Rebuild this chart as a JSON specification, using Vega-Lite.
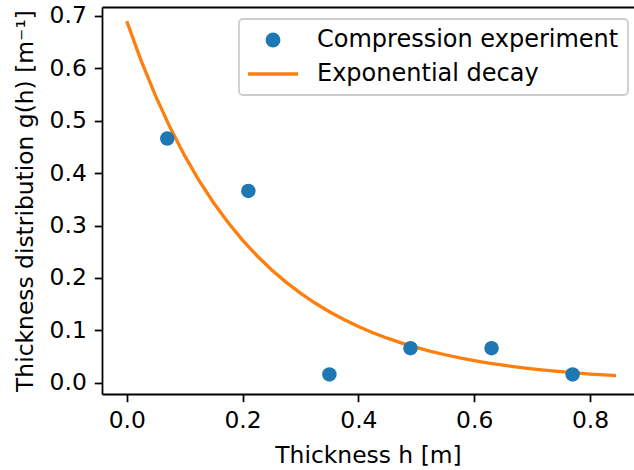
{
  "$schema": "https://vega.github.io/schema/vega-lite/v6.json",
  "autosize": {"type": "none"},
  "padding": {"left": 102, "top": 7, "right": 0, "bottom": 76},
  "width": 532,
  "height": 387,
  "background": "white",
  "config": {
    "view": {"stroke": null},
    "font": "DejaVu Sans",
    "axis": {
      "grid": false,
      "domainColor": "#000000",
      "domainWidth": 1.76,
      "tickColor": "#000000",
      "tickWidth": 1.76,
      "tickSize": 7.7,
      "labelPadding": 8,
      "labelFont": "DejaVu Sans",
      "labelFontSize": 23.4,
      "labelColor": "#000000",
      "titleFont": "DejaVu Sans",
      "titleFontSize": 23.4,
      "titleFontWeight": "normal",
      "titleColor": "#000000"
    }
  },
  "datasets": {
    "experiment": [
      {"h": 0.07, "g": 0.466, "series": "Compression experiment"},
      {"h": 0.21, "g": 0.366, "series": "Compression experiment"},
      {"h": 0.35, "g": 0.016, "series": "Compression experiment"},
      {"h": 0.49, "g": 0.066, "series": "Compression experiment"},
      {"h": 0.63, "g": 0.066, "series": "Compression experiment"},
      {"h": 0.77, "g": 0.016, "series": "Compression experiment"}
    ],
    "fit": [
      {"h": 0.0, "g": 0.6900, "series": "Exponential decay"},
      {"h": 0.025, "g": 0.6143, "series": "Exponential decay"},
      {"h": 0.05, "g": 0.5469, "series": "Exponential decay"},
      {"h": 0.075, "g": 0.4869, "series": "Exponential decay"},
      {"h": 0.1, "g": 0.4334, "series": "Exponential decay"},
      {"h": 0.125, "g": 0.3859, "series": "Exponential decay"},
      {"h": 0.15, "g": 0.3435, "series": "Exponential decay"},
      {"h": 0.175, "g": 0.3058, "series": "Exponential decay"},
      {"h": 0.2, "g": 0.2723, "series": "Exponential decay"},
      {"h": 0.225, "g": 0.2424, "series": "Exponential decay"},
      {"h": 0.25, "g": 0.2158, "series": "Exponential decay"},
      {"h": 0.275, "g": 0.1921, "series": "Exponential decay"},
      {"h": 0.3, "g": 0.1710, "series": "Exponential decay"},
      {"h": 0.325, "g": 0.1522, "series": "Exponential decay"},
      {"h": 0.35, "g": 0.1355, "series": "Exponential decay"},
      {"h": 0.375, "g": 0.1207, "series": "Exponential decay"},
      {"h": 0.4, "g": 0.1074, "series": "Exponential decay"},
      {"h": 0.425, "g": 0.0956, "series": "Exponential decay"},
      {"h": 0.45, "g": 0.0851, "series": "Exponential decay"},
      {"h": 0.475, "g": 0.0758, "series": "Exponential decay"},
      {"h": 0.5, "g": 0.0675, "series": "Exponential decay"},
      {"h": 0.525, "g": 0.0601, "series": "Exponential decay"},
      {"h": 0.55, "g": 0.0535, "series": "Exponential decay"},
      {"h": 0.575, "g": 0.0476, "series": "Exponential decay"},
      {"h": 0.6, "g": 0.0424, "series": "Exponential decay"},
      {"h": 0.625, "g": 0.0377, "series": "Exponential decay"},
      {"h": 0.65, "g": 0.0336, "series": "Exponential decay"},
      {"h": 0.675, "g": 0.0299, "series": "Exponential decay"},
      {"h": 0.7, "g": 0.0266, "series": "Exponential decay"},
      {"h": 0.725, "g": 0.0237, "series": "Exponential decay"},
      {"h": 0.75, "g": 0.0211, "series": "Exponential decay"},
      {"h": 0.775, "g": 0.0188, "series": "Exponential decay"},
      {"h": 0.8, "g": 0.0167, "series": "Exponential decay"},
      {"h": 0.825, "g": 0.0149, "series": "Exponential decay"},
      {"h": 0.845, "g": 0.0136, "series": "Exponential decay"}
    ]
  },
  "layer": [
    {
      "data": {"name": "fit"},
      "mark": {"type": "line", "strokeWidth": 3.3, "strokeCap": "butt", "clip": true},
      "encoding": {
        "x": {
          "field": "h", "type": "quantitative",
          "scale": {"domain": [-0.0427, 0.876], "nice": false, "zero": false},
          "axis": {"orient": "top", "labels": false, "ticks": false, "title": null}
        },
        "y": {
          "field": "g", "type": "quantitative",
          "scale": {"domain": [-0.0214, 0.717], "nice": false, "zero": false},
          "axis": {
            "values": [0, 0.1, 0.2, 0.3, 0.4, 0.5, 0.6, 0.7],
            "format": ".1f",
            "title": "Thickness distribution g(h) [m⁻¹]",
            "titlePadding": 12
          }
        },
        "color": {
          "field": "series", "type": "nominal",
          "scale": {"domain": ["Compression experiment", "Exponential decay"], "range": ["#1f77b4", "#ff7f0e"]},
          "legend": {
            "title": null,
            "orient": "none",
            "legendX": 137,
            "legendY": 12,
            "padding": 9,
            "fillColor": "rgba(255,255,255,0.8)",
            "strokeColor": "#cccccc",
            "cornerRadius": 4,
            "labelFont": "DejaVu Sans",
            "labelFontSize": 24,
            "labelLimit": 500,
            "labelColor": "#000000",
            "symbolOffset": 13,
            "labelOffset": 32,
            "rowPadding": 10,
            "encode": {
              "legend": {"update": {"strokeWidth": {"value": 1.76}}},
              "symbols": {
                "update": {
                  "shape": {"signal": "datum.value == 'Exponential decay' ? 'stroke' : 'circle'"},
                  "size": {"signal": "datum.value == 'Exponential decay' ? 2500 : 220"},
                  "fill": {"signal": "datum.value == 'Exponential decay' ? 'transparent' : '#1f77b4'"},
                  "stroke": {"signal": "datum.value == 'Exponential decay' ? '#ff7f0e' : 'transparent'"},
                  "strokeWidth": {"signal": "datum.value == 'Exponential decay' ? 3.3 : 0"},
                  "opacity": {"value": 1}
                }
              }
            }
          }
        }
      }
    },
    {
      "data": {"name": "experiment"},
      "mark": {"type": "circle", "size": 210, "opacity": 1},
      "encoding": {
        "x": {
          "field": "h", "type": "quantitative",
          "axis": {
            "orient": "bottom",
            "values": [0, 0.2, 0.4, 0.6, 0.8],
            "format": ".1f",
            "title": "Thickness h [m]",
            "titlePadding": 12
          }
        },
        "y": {"field": "g", "type": "quantitative"},
        "color": {"field": "series", "type": "nominal"}
      }
    }
  ],
  "resolve": {"axis": {"x": "independent"}}
}
